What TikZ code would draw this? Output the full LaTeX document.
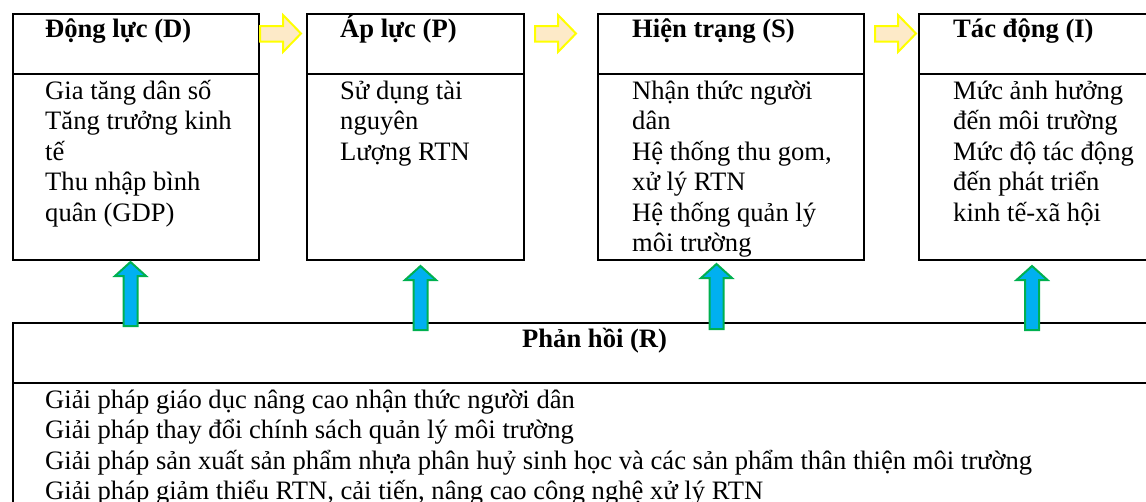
\documentclass[tikz,border=0pt]{standalone}
\usepackage{fontspec}
\setmainfont{Liberation Serif}
\definecolor{peach}{RGB}{253,234,200}
\definecolor{yel}{RGB}{255,255,0}
\definecolor{skyb}{RGB}{0,176,240}
\definecolor{grn}{RGB}{0,176,80}
\newcommand\yelarrow[2]{\draw[yarr] (#1,26) -- (#1+23,26) -- (#1+23,15) -- (#1+41,33.5) -- (#1+23,52) -- (#1+23,41.5) -- (#1,41.5) -- cycle;}
\newcommand\bluarrow[3]{\draw[barr] (#1-7,#3) -- (#1-7,#2+14) -- (#1-15.5,#2+14) -- (#1,#2) -- (#1+15.5,#2+14) -- (#1+7,#2+14) -- (#1+7,#3) -- cycle;}
\begin{document}
\begin{tikzpicture}[x=1pt,y=-1pt,
  box/.style={draw,line width=1.8pt,inner sep=0pt,anchor=north west},
  txt/.style={anchor=base west,inner sep=0pt,font=\fontsize{26.6}{30.5}\selectfont},
  hd/.style={anchor=base west,inner sep=0pt,font=\fontsize{26.6}{30.5}\selectfont\bfseries},
  yarr/.style={draw=yel,fill=peach,line width=2pt,line join=miter},
  barr/.style={draw=grn,fill=skyb,line width=2pt,line join=miter}]
\useasboundingbox (0,0) rectangle (1146,501);
\clip (0,0) rectangle (1146,501);
% boxes
\node[box,minimum width=246pt,minimum height=246pt] (D) at (12,13) {};
\node[box,minimum width=217pt,minimum height=246pt] (P) at (306,13) {};
\node[box,minimum width=266pt,minimum height=246pt] (S) at (597,13) {};
\node[box,minimum width=300pt,minimum height=246pt] (I) at (918,13) {};
\node[box,minimum width=1200pt,minimum height=300pt] (R) at (12,322) {};
\foreach \b in {D,P,S,I} \draw[line width=1.8pt] (\b.west |- 0,74) -- (\b.east |- 0,74);
\draw[line width=1.8pt] (R.west |- 0,383) -- (R.east |- 0,383);
% headings
\node[hd] (hD) at (45,37) {Động lực (D)};
\node[hd] (hP) at (340,37) {Áp lực (P)};
\node[hd] (hS) at (632,37) {Hiện trạng (S)};
\node[hd] (hI) at (953,37) {Tác động (I)};
\node[hd] (hR) at (522,347) {Phản hồi (R)};
% bodies
\foreach \t [count=\i from 0] in {Gia tăng dân số,Tăng trưởng kinh,tế,Thu nhập bình,quân (GDP)}
  \node[txt] (d\i) at (45,99+30.5*\i) {\t};
\foreach \t [count=\i from 0] in {Sử dụng tài,nguyên,Lượng RTN}
  \node[txt] (p\i) at (340,99+30.5*\i) {\t};
\foreach \t [count=\i from 0] in {Nhận thức người,dân,{Hệ thống thu gom,},xử lý RTN,Hệ thống quản lý,môi trường}
  \node[txt] (s\i) at (632,99+30.5*\i) {\t};
\foreach \t [count=\i from 0] in {Mức ảnh hưởng,đến môi trường,Mức độ tác động,đến phát triển,kinh tế-xã hội}
  \node[txt] (i\i) at (953,99+30.5*\i) {\t};
\foreach \t [count=\i from 0] in {Giải pháp giáo dục nâng cao nhận thức người dân,Giải pháp thay đổi chính sách quản lý môi trường,Giải pháp sản xuất sản phẩm nhựa phân huỷ sinh học và các sản phẩm thân thiện môi trường,{Giải pháp giảm thiểu RTN, cải tiến, nâng cao công nghệ xử lý RTN}}
  \node[txt] (r\i) at (45,408+30.5*\i) {\t};
% arrows
\yelarrow{260}{}
\yelarrow{535}{}
\yelarrow{875}{}
\bluarrow{130.5}{262}{326}
\bluarrow{420.5}{266}{330}
\bluarrow{716.5}{264}{329}
\bluarrow{1032}{266}{330}
\end{tikzpicture}
\end{document}
